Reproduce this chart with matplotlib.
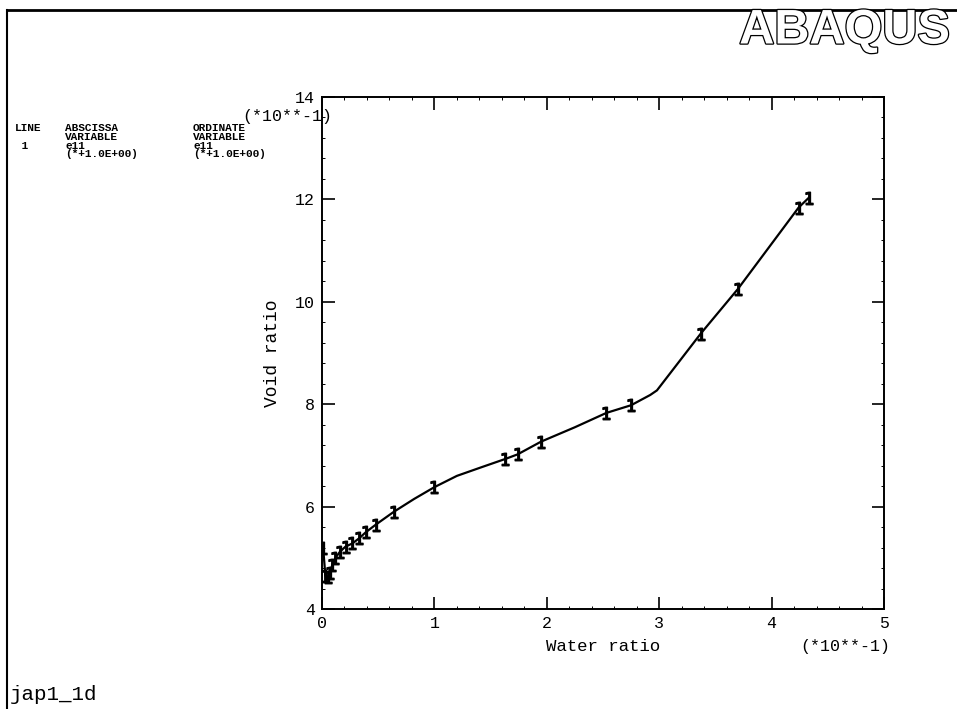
"""
Curva de compactacion ABAQUS: Void ratio vs Water ratio (jap1_1d)
"""

import matplotlib.pyplot as plt
import matplotlib.patheffects as pe
from matplotlib.lines import Line2D
from matplotlib.ticker import MultipleLocator

# datos (ambos ejes en unidades de 10**-1)
water_ratio = [0.01, 0.03, 0.05, 0.07, 0.09, 0.12, 0.16, 0.21, 0.27, 0.33,
               0.39, 0.48, 0.64, 0.82, 1.00, 1.20, 1.42, 1.63, 1.74, 1.95,
               2.25, 2.53, 2.75, 2.92, 2.98, 3.37, 3.70, 4.24, 4.33]
void_ratio = [5.20, 4.65, 4.62, 4.70, 4.85, 5.00, 5.12, 5.22, 5.28, 5.38,
              5.50, 5.65, 5.90, 6.15, 6.38, 6.60, 6.77, 6.93, 7.02, 7.27,
              7.55, 7.83, 7.98, 8.18, 8.27, 9.38, 10.25, 11.84, 12.03]
# puntos que llevan la etiqueta "1" de la curva
marcas = [0, 1, 2, 3, 4, 5, 6, 7, 8, 9, 10, 11, 12, 14, 17, 18, 19, 21, 22,
          25, 26, 27, 28]

x_ticks = [0, 1, 2, 3, 4, 5]
y_ticks = [4, 6, 8, 10, 12, 14]

# bloque de leyenda: columnas de texto
col_line = "LINE\n\n 1"
col_absc = "ABSCISSA\nVARIABLE\ne11\n(*+1.0E+00)"
col_ord = "ORDINATE\nVARIABLE\ne11\n(*+1.0E+00)"

MONO = "Liberation Mono"

fig = plt.figure(figsize=(9.57, 7.09), dpi=100)
ax = fig.add_axes([322 / 957, 100 / 709, 562 / 957, 512 / 709])

ax.plot(water_ratio, void_ratio, color="black", linewidth=1.6)
ax.plot([water_ratio[i] for i in marcas], [void_ratio[i] for i in marcas],
        linestyle="none", marker=r"$\mathtt{1}$", markersize=9,
        color="black")

ax.set_xlim(0, 5)
ax.set_ylim(4, 14)
ax.set_xticks(x_ticks)
ax.set_yticks(y_ticks)
ax.xaxis.set_minor_locator(MultipleLocator(0.2))
ax.yaxis.set_minor_locator(MultipleLocator(0.4))
ax.tick_params(which="major", direction="in", length=9, width=1.2,
               top=True, right=True, labelsize=12, pad=5)
ax.tick_params(which="minor", direction="in", length=2, width=0.7,
               top=True, right=True)
for lbl in ax.get_xticklabels() + ax.get_yticklabels():
    lbl.set_family(MONO)
for s in ax.spines.values():
    s.set_linewidth(1.4)

ax.set_xlabel("Water ratio", family=MONO, fontsize=12.5, labelpad=6)
ax.set_ylabel("Void ratio", family=MONO, fontsize=13, labelpad=10)

# multiplicadores de escala
fig.text(845 / 957, 1 - 647 / 709, "(*10**-1)", family=MONO, fontsize=12,
         ha="center", va="center")
fig.text(332 / 957, 1 - 116 / 709, "(*10**-1)", family=MONO, fontsize=12,
         ha="right", va="center")

# bloque de leyenda ABAQUS
for px, txt in [(15, col_line), (65, col_absc), (193, col_ord)]:
    fig.text(px / 957, 1 - 123 / 709, txt, family=MONO, fontsize=8,
             fontweight="bold", ha="left", va="top", linespacing=0.85)

fig.text(10 / 957, 1 - 695 / 709, "jap1_1d", family=MONO, fontsize=15,
         ha="left", va="center")

# logo
logo = fig.text(950 / 957, 1 - 31 / 709, "ABAQUS", family="Liberation Sans",
                fontsize=35, fontweight="bold", color="white",
                ha="right", va="center")
logo.set_path_effects([pe.Stroke(linewidth=1.8, foreground="black"),
                       pe.Normal()])

# marco de pagina
fig.add_artist(Line2D([7 / 957, 1], [1 - 10 / 709, 1 - 10 / 709],
                      transform=fig.transFigure, color="black", linewidth=2))
fig.add_artist(Line2D([7 / 957, 7 / 957], [0, 1 - 10 / 709],
                      transform=fig.transFigure, color="black", linewidth=1.5))

fig.savefig("out.png", dpi=100)
